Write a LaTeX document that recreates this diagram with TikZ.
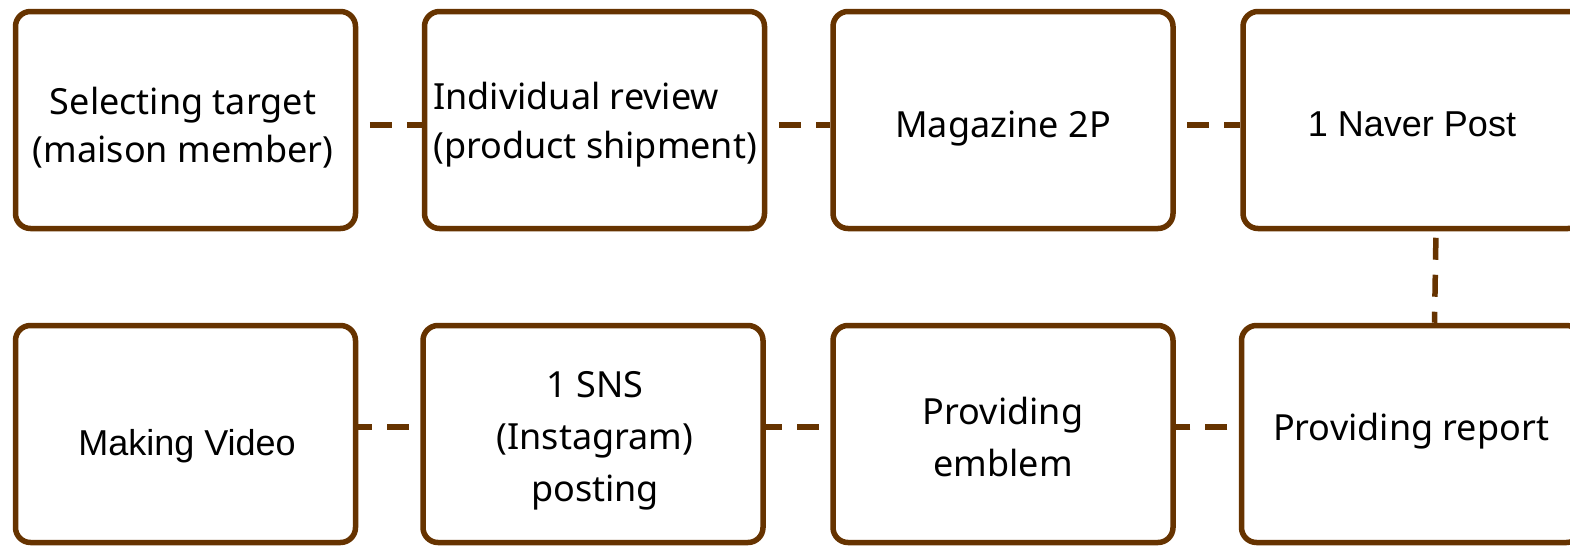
\documentclass[tikz,border=0pt]{standalone}
\usepackage{fontspec}
\setmainfont{Noto Sans}
\newfontfamily\arialfont{Liberation Sans}
\definecolor{boxbrown}{RGB}{102,51,0}
\begin{document}
\begin{tikzpicture}[x=1pt,y=-1pt,
  box/.style={draw=boxbrown, line width=5.5pt, rounded corners=15pt,
    minimum width=340pt, minimum height=217pt, inner sep=0pt, fill=white},
  link/.style={draw=boxbrown, line width=5.5pt, dash pattern=on 22pt off 15pt, dash phase=25.5pt},
  txt/.style={font=\fontsize{36}{49}\selectfont, align=center, inner sep=0pt, anchor=base},
  arialtxt/.style={font=\arialfont\fontsize{36}{42}\selectfont, inner sep=0pt, anchor=base}]
\useasboundingbox (0,0) rectangle (1570,546);
\clip (0,0) rectangle (1570,546);
% boxes
\node[box] (b1) at (185.5,120) {};
\node[box] (b2) at (594.5,120) {};
\node[box] (b3) at (1003,120) {};
\node[box] (b4) at (1413,120) {};
\node[box] (b5) at (185.5,434) {};
\node[box] (b6) at (593,434) {};
\node[box] (b7) at (1003,434) {};
\node[box] (b8) at (1411.5,434) {};
% connectors
\draw[link] ([yshift=-5pt]b1.east) -- ([yshift=-5pt]b2.west);
\draw[link] ([yshift=-5pt]b2.east) -- ([yshift=-5pt]b3.west);
\draw[link] ([yshift=-5pt]b3.east) -- ([yshift=-5pt]b4.west);
\draw[link, dash phase=30.5pt] ([xshift=23pt]b4.south) -- ([xshift=23pt]b8.north);
\draw[link] ([yshift=7pt]b8.west) -- ([yshift=7pt]b7.east);
\draw[link] ([yshift=7pt]b7.west) -- ([yshift=7pt]b6.east);
\draw[link] ([yshift=7pt]b6.west) -- ([yshift=7pt]b5.east);
% texts (base anchor = baseline of the last line)
\node[txt, font=\fontsize{36}{48}\selectfont] (t1) at (183,162) {Selecting target\\(maison member)};
\node[txt, align=left, anchor=base west] (t2) at (433,158) {Individual review\\(product shipment)};
\node[txt] (t3) at (1003,137) {Magazine 2P};
\node[arialtxt] (t4) at (1412,136.5) {1 Naver Post};
\node[arialtxt] (t5) at (187,455) {Making Video};
\node[txt, font=\fontsize{36}{52}\selectfont] (t6) at (595,501) {1 SNS\\(Instagram)\\posting};
\node[txt, font=\fontsize{36}{52}\selectfont] (t7) at (1003,476) {Providing\\emblem};
\node[txt] (t8) at (1411,440) {Providing report};
\end{tikzpicture}
\end{document}
